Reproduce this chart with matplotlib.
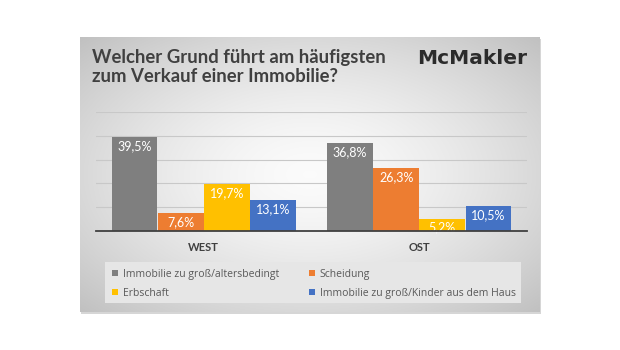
import numpy as np
import matplotlib
matplotlib.use("Agg")
from matplotlib import pyplot as plt
from matplotlib.patches import Rectangle

plt.rcParams['font.family'] = ['Open Sans', 'DejaVu Sans']

# data
regions = ["WEST", "OST"]
series = ["Immobilie zu groß/altersbedingt", "Scheidung",
          "Erbschaft", "Immobilie zu groß/Kinder aus dem Haus"]
values = [[39.5, 36.8],   # zu gross / altersbedingt
          [7.6, 26.3],    # Scheidung
          [19.7, 5.2],    # Erbschaft
          [13.1, 10.5]]   # Kinder aus dem Haus
labels = [["39,5%", "36,8%"], ["7,6%", "26,3%"], ["19,7%", "5,2%"], ["13,1%", "10,5%"]]
colors = ["#7f7f7f", "#ed7d31", "#ffc000", "#4472c4"]

W, H = 620, 350
fig = plt.figure(figsize=(6.2, 3.5), dpi=100)
fig.patch.set_facecolor("white")

# panel with gradient background
px0, px1, py0, py1 = 80, 540, 37, 312
shadow = fig.add_axes([(px0 + 1) / W, (H - py1 - 2) / H, (px1 - px0) / W, (py1 - py0) / H])
shadow.set_facecolor("#d6d6d6")
shadow.set_xticks([]); shadow.set_yticks([])
for s in shadow.spines.values():
    s.set_visible(False)

panel = fig.add_axes([px0 / W, (H - py1) / H, (px1 - px0) / W, (py1 - py0) / H])
gx, gy = np.meshgrid(np.linspace(-1, 1, 400), np.linspace(-1, 1, 240))
r = np.sqrt(gx**2 + gy**2) / np.sqrt(2)
g = 0.985 - 0.23 * r**1.5
panel.imshow(np.dstack([g, g, g]), extent=[0, 1, 0, 1], aspect="auto", origin="lower")
panel.set_xlim(0, 1); panel.set_ylim(0, 1)
panel.set_xticks([]); panel.set_yticks([])
for s in panel.spines.values():
    s.set_visible(False)

# legend box
lx0, lx1, ly0, ly1 = 105, 521, 262, 303
panel.add_patch(Rectangle(((lx0 - px0) / (px1 - px0), (py1 - ly1) / (py1 - py0)),
                          (lx1 - lx0) / (px1 - px0), (ly1 - ly0) / (py1 - py0),
                          facecolor="#e6e6e6", edgecolor="none", zorder=2))

fig.text(92 / W, 1 - 67 / H, "Welcher Grund führt am häufigsten\nzum Verkauf einer Immobilie?",
         family=["Lato", "DejaVu Sans"], fontsize=13.3, fontweight="bold", color="#404040",
         va="center", ha="left", linespacing=1.1)
fig.text(527 / W, 1 - 58 / H, "McMakler", family=["DejaVu Sans"], fontsize=14.5,
         fontweight="bold", color="#2b2b2b", ha="right", va="center")

# bar chart
ax = fig.add_axes([96 / W, (H - 231) / H, 431 / W, 119 / H])
ax.patch.set_alpha(0)
x = np.arange(len(regions))
bw = 0.214
handles = []
for i, (vals, c) in enumerate(zip(values, colors)):
    pos = x + (i - 1.5) * bw
    b = ax.bar(pos, vals, width=bw * 0.99, color=c, zorder=3, label=series[i])
    handles.append(b)
    for p, v, t in zip(pos, vals, labels[i]):
        ax.text(p, v - 1.2, t, ha="center", va="top", color="white", fontsize=9, zorder=4,
                family=["Lato", "DejaVu Sans"])

ax.set_xlim(-0.5, 1.5)
ax.set_ylim(0, 50)
ax.set_yticks([10, 20, 30, 40, 50])
ax.yaxis.grid(True, color="#c8c8c8", lw=0.8, zorder=0)
ax.tick_params(axis="y", left=False, labelleft=False)
ax.set_xticks(x)
ax.set_xticklabels(regions, fontsize=8, fontweight="bold", color="#404040",
                   family=["Lato", "DejaVu Sans"])
ax.tick_params(axis="x", length=0, pad=8)
for s in ["top", "right", "left"]:
    ax.spines[s].set_visible(False)
ax.spines["bottom"].set_color("#404040")
ax.spines["bottom"].set_linewidth(1.3)
ax.spines["bottom"].set_zorder(5)

order = [0, 2, 1, 3]
leg = fig.legend([handles[k] for k in order], [series[k] for k in order], ncol=2,
                 loc="lower left", mode="expand",
                 bbox_to_anchor=(108 / W, (H - 303) / H, (520 - 108) / W, (303 - 262) / H),
                 frameon=False, fontsize=7.5, handlelength=0.55, handleheight=0.55,
                 handletextpad=0.5, labelspacing=0.8, borderaxespad=0.2, borderpad=0.2)
for t in leg.get_texts():
    t.set_color("#595959")

fig.savefig("out.png", dpi=100)
